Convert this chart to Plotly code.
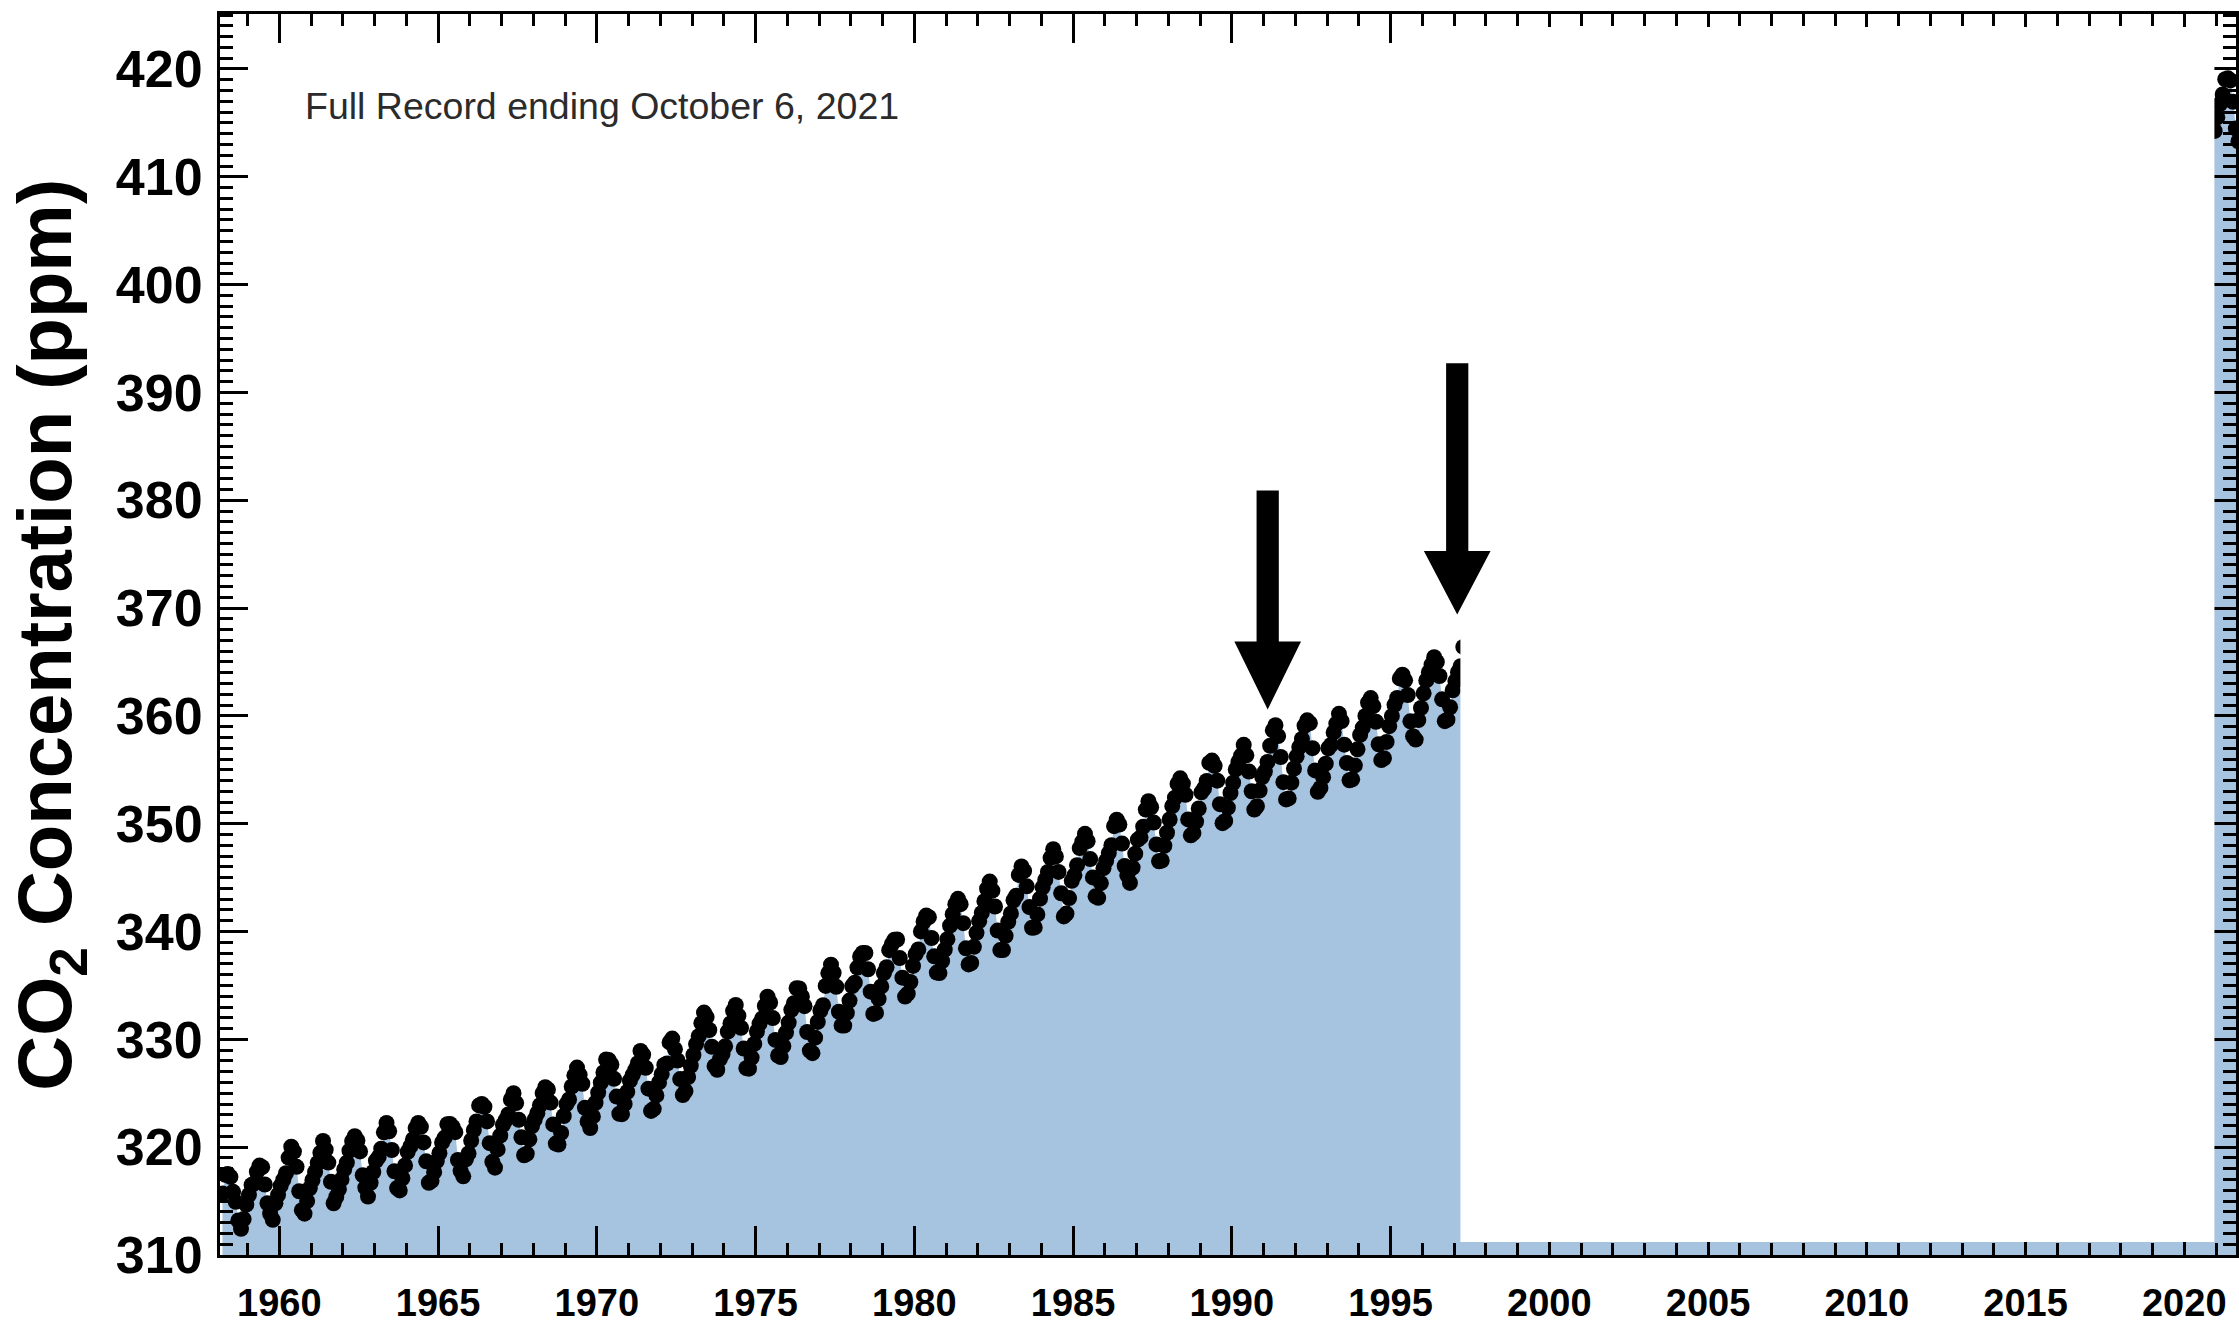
import plotly.graph_objects as go

# ---- Monthly mean CO2 (ppm), Mauna Loa ----
# Mar 1958 - Dec 1959
co2_1958_1959 = [315.70, 317.45, 317.51, 317.24, 315.86, 314.93, 313.20, 312.43, 313.33, 314.67,
                 315.58, 316.49, 316.65, 317.72, 318.29, 318.15, 316.54, 314.80, 313.84, 313.26, 314.80, 315.58]
co2_1960s = [
    316.43, 316.98, 317.58, 319.03, 320.04, 319.59, 318.18, 315.91, 314.16, 313.83, 315.00, 316.19,
    316.93, 317.70, 318.54, 319.48, 320.58, 319.77, 318.57, 316.79, 314.80, 315.38, 316.10, 317.01,
    317.94, 318.56, 319.68, 320.57, 321.02, 320.62, 319.61, 317.40, 316.25, 315.42, 316.69, 317.70,
    318.74, 319.07, 319.86, 321.38, 322.25, 321.48, 319.74, 317.77, 316.21, 315.99, 317.12, 318.31,
    319.57, 320.07, 320.73, 321.77, 322.25, 321.89, 320.44, 318.69, 316.70, 316.87, 317.68, 318.71,
    319.44, 320.44, 320.89, 322.13, 322.16, 321.87, 321.39, 318.81, 317.81, 317.30, 318.87, 319.42,
    320.62, 321.59, 322.39, 323.87, 324.01, 323.75, 322.39, 320.37, 318.64, 318.10, 319.79, 321.08,
    322.07, 322.50, 323.04, 324.42, 325.00, 324.09, 322.54, 320.92, 319.25, 319.39, 320.73, 321.96,
    322.57, 323.15, 323.89, 325.02, 325.57, 325.36, 324.14, 322.11, 320.33, 320.25, 321.32, 322.89,
    324.00, 324.42, 325.63, 326.66, 327.38, 326.71, 325.88, 323.66, 322.38, 321.78, 322.85, 324.12,
]
co2_1970s = [
    325.06, 325.98, 326.93, 328.13, 328.08, 327.67, 326.34, 324.69, 323.10, 323.06, 324.01, 325.13,
    326.17, 326.68, 327.17, 327.79, 328.93, 328.57, 327.36, 325.43, 323.36, 323.56, 324.80, 326.01,
    326.77, 327.63, 327.75, 329.72, 330.07, 329.09, 328.04, 326.32, 324.84, 325.20, 326.50, 327.55,
    328.55, 329.56, 330.30, 331.50, 332.48, 332.07, 330.87, 329.31, 327.51, 327.18, 328.16, 328.64,
    329.35, 330.71, 331.48, 332.65, 333.19, 332.20, 331.07, 329.15, 327.33, 327.28, 328.31, 329.58,
    330.73, 331.46, 331.94, 333.11, 333.95, 333.42, 331.97, 329.95, 328.50, 328.36, 329.38, 330.62,
    331.56, 332.74, 333.36, 334.74, 334.72, 333.98, 333.08, 330.68, 328.96, 328.72, 330.16, 331.62,
    332.68, 333.17, 334.96, 336.14, 336.93, 336.17, 334.88, 332.56, 331.29, 331.28, 332.46, 333.60,
    334.94, 335.26, 336.66, 337.69, 338.02, 338.01, 336.50, 334.42, 332.36, 332.45, 333.76, 334.91,
    336.14, 336.69, 338.27, 338.82, 339.24, 339.26, 337.54, 335.72, 333.97, 334.24, 335.32, 336.81,
]
co2_1980s = [
    337.90, 338.34, 340.01, 340.93, 341.48, 341.33, 339.40, 337.70, 336.19, 336.15, 337.27, 338.32,
    339.29, 340.55, 341.61, 342.53, 343.03, 342.54, 340.78, 338.44, 336.95, 337.08, 338.58, 339.88,
    340.96, 341.73, 342.81, 343.97, 344.63, 343.79, 342.32, 340.09, 338.28, 338.29, 339.60, 340.90,
    341.68, 342.90, 343.33, 345.25, 346.03, 345.63, 344.19, 342.27, 340.35, 340.38, 341.59, 343.05,
    344.10, 344.79, 345.52, 346.84, 347.63, 346.97, 345.53, 343.55, 341.40, 341.67, 343.10, 344.70,
    345.21, 346.16, 347.74, 348.34, 349.06, 348.38, 346.72, 345.02, 343.27, 343.13, 344.49, 345.88,
    346.56, 347.28, 348.01, 349.77, 350.38, 349.93, 348.16, 346.08, 345.22, 344.51, 345.93, 347.22,
    348.52, 348.73, 349.73, 351.31, 352.09, 351.53, 350.11, 348.08, 346.52, 346.59, 347.96, 349.16,
    350.39, 351.64, 352.41, 353.69, 354.21, 353.72, 352.69, 350.40, 348.92, 349.13, 350.20, 351.41,
    352.91, 353.27, 353.96, 355.64, 355.86, 355.37, 353.99, 351.81, 350.05, 350.25, 351.49, 352.85,
]
# Jan 1990 - Apr 1997
co2_1990s = [
    353.80, 355.04, 355.73, 356.32, 357.32, 356.34, 354.84, 353.01, 351.31, 351.62, 353.07, 354.33,
    354.84, 355.73, 357.23, 358.66, 359.13, 358.13, 356.19, 353.85, 352.25, 352.35, 353.81, 355.12,
    356.25, 357.11, 357.86, 359.09, 359.59, 359.33, 357.01, 354.94, 352.96, 353.32, 354.32, 355.57,
    357.00, 357.31, 358.47, 359.27, 360.19, 359.52, 357.33, 355.64, 354.03, 354.12, 355.41, 356.91,
    358.24, 358.92, 359.99, 361.23, 361.65, 360.90, 359.46, 357.37, 355.90, 356.07, 357.59, 359.05,
    359.98, 361.03, 361.66, 363.48, 363.82, 363.30, 361.94, 359.50, 358.11, 357.80, 359.61, 360.74,
    362.09, 363.29, 364.06, 364.76, 365.45, 365.01, 363.70, 361.54, 359.51, 359.65, 360.80, 362.38,
    363.23, 364.06, 364.61, 366.40,
]
# Dec 2020 - Oct 2021
co2_2020s = [414.26, 415.52, 416.75, 417.64, 419.05, 419.13, 418.94, 416.96, 414.47, 413.30, 413.93]

segments = [  # (start year, start month, values)
    (1958, 3, co2_1958_1959),
    (1960, 1, co2_1960s),
    (1970, 1, co2_1970s),
    (1980, 1, co2_1980s),
    (1990, 1, co2_1990s),
    (2020, 12, co2_2020s),
]

dates, values = [], []
for y0, m0, vals in segments:
    for i, v in enumerate(vals):
        k = (m0 - 1) + i
        dates.append(y0 + k // 12 + ((k % 12) + 0.5) / 12.0)
        values.append(v)

# ---- chart texts / annotation positions ----
y_title = "CO<sub>2</sub> Concentration (ppm)"
note_text = "Full Record ending October 6, 2021"
x_range = [1958.13, 2021.63]
y_range = [310, 425.1]
mask_x = (1997.2, 2020.95)     # white box hiding part of the record
mask_y = (311.2, 423.9)
arrow_x = [1991.13, 1997.10]
arrow_top = [380.9, 392.7]
arrow_tip = [360.6, 369.4]
arrow_head_len = [6.3, 5.9]
shaft_half = 0.35
head_half = 1.05

FILL = "#a6c3e0"
FONT = "Liberation Sans, Arial, Helvetica, sans-serif"

fig = go.Figure()
fig.add_trace(go.Scatter(
    x=dates, y=values, mode="markers", fill="tozeroy", fillcolor=FILL,
    marker=dict(color="black", size=16, line=dict(width=0)),
    hoverinfo="x+y", showlegend=False,
))

shapes = [dict(type="rect", xref="x", yref="y", x0=mask_x[0], x1=mask_x[1],
               y0=mask_y[0], y1=mask_y[1], fillcolor="white", line=dict(width=0),
               layer="above")]
for ax, top, tip, hl in zip(arrow_x, arrow_top, arrow_tip, arrow_head_len):
    base = tip + hl
    path = (f"M {ax-shaft_half},{top} L {ax+shaft_half},{top} L {ax+shaft_half},{base} "
            f"L {ax+head_half},{base} L {ax},{tip} L {ax-head_half},{base} "
            f"L {ax-shaft_half},{base} Z")
    shapes.append(dict(type="path", xref="x", yref="y", path=path,
                       fillcolor="black", line=dict(width=0), layer="above"))

axis_common = dict(
    showline=True, linecolor="black", linewidth=3, mirror="allticks",
    ticks="inside", tickcolor="black", tickwidth=3,
    showgrid=False, zeroline=False,
)

fig.update_layout(
    width=2239, height=1324,
    margin=dict(l=220, r=0, t=14, b=67),
    paper_bgcolor="white", plot_bgcolor="white",
    xaxis=dict(range=x_range, tick0=1960, dtick=5, ticklen=29,
               tickfont=dict(family=FONT, size=38, color="black", weight="bold"),
               ticklabelstandoff=12,
               minor=dict(dtick=1, ticks="inside", ticklen=12, tickwidth=2.5,
                          tickcolor="black", showgrid=False),
               **axis_common),
    yaxis=dict(range=y_range, tick0=310, dtick=10, ticklen=28,
               tickfont=dict(family=FONT, size=52, color="black", weight="bold"),
               ticklabelstandoff=4,
               minor=dict(dtick=1, ticks="inside", ticklen=13, tickwidth=2.5,
                          tickcolor="black", showgrid=False),
               **axis_common),
    shapes=shapes,
    annotations=[
        dict(text=y_title, xref="paper", yref="paper", x=-0.0847, y=0.5,
             xanchor="center", yanchor="middle", textangle=-90, showarrow=False,
             font=dict(family=FONT, size=76, color="black", weight="bold")),
        dict(text=note_text, xref="x", yref="y", x=1960.74, y=416.6,
             xanchor="left", yanchor="middle", showarrow=False,
             font=dict(family=FONT, size=37.5, color="#2b2b2b")),
    ],
)

fig.write_html(
    "out.html",
    config={"displayModeBar": False},
    post_script="document.body.style.margin='0';document.body.style.overflow='hidden';",
)
